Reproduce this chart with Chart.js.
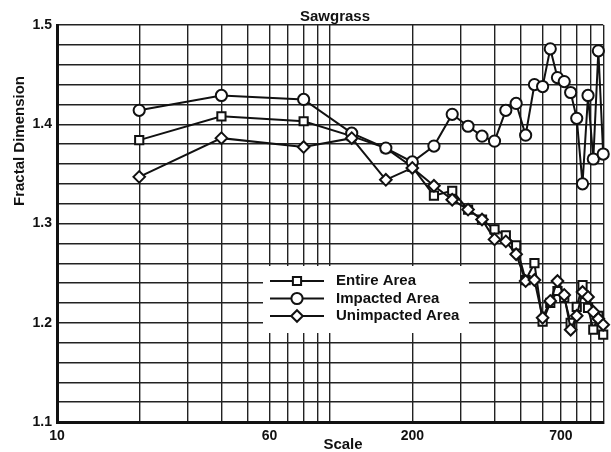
<!DOCTYPE html>
<html>
<head>
<meta charset="utf-8">
<script src="https://cdn.jsdelivr.net/npm/chart.js@4.4.1/dist/chart.umd.min.js"></script>
<style>
  html, body { margin: 0; padding: 0; background: #fff; }
</style>
</head>
<body>
<canvas id="chart" width="611" height="452"></canvas>
<script>
// values
const scales = [20, 40, 80, 120, 160, 200, 240, 280, 320, 360, 400, 440, 480, 520, 560, 600, 640, 680, 720, 760, 800, 840, 880, 920, 960, 1000];
const entireArea = [1.384, 1.408, 1.403, 1.388, 1.376, 1.357, 1.328, 1.333, 1.314, 1.304, 1.294, 1.288, 1.278, 1.243, 1.260, 1.201, 1.220, 1.232, 1.225, 1.200, 1.216, 1.238, 1.215, 1.193, 1.207, 1.188];
const impactedArea = [1.414, 1.429, 1.425, 1.391, 1.376, 1.362, 1.378, 1.410, 1.398, 1.388, 1.383, 1.414, 1.421, 1.389, 1.440, 1.438, 1.476, 1.447, 1.443, 1.432, 1.406, 1.340, 1.429, 1.365, 1.474, 1.370];
const unimpactedArea = [1.347, 1.386, 1.377, 1.386, 1.344, 1.356, 1.338, 1.324, 1.314, 1.304, 1.284, 1.282, 1.269, 1.242, 1.243, 1.205, 1.222, 1.242, 1.228, 1.193, 1.207, 1.231, 1.226, 1.211, 1.204, 1.198];

const xGridValues = [10, 20, 30, 40, 50, 60, 70, 80, 90, 100, 200, 300, 400, 500, 600, 700, 800, 900, 1000];
const xTickLabels = [10, 60, 200, 700];
const yTickLabels = [1.1, 1.2, 1.3, 1.4, 1.5];

const FONT = "'Liberation Sans', Arial, Helvetica, sans-serif";
const INK = "#111";

function series(values) {
  return scales.map((x, i) => ({ x: x, y: values[i] }));
}

function lineDataset(label, values, style, radius) {
  return {
    label: label,
    data: series(values),
    borderColor: INK,
    borderWidth: 2,
    pointStyle: style,
    pointRadius: radius,
    pointBorderWidth: 2,
    pointBackgroundColor: "#fff",
    pointBorderColor: INK,
    tension: 0,
    fill: false,
    clip: false
  };
}

// chart.js paints index 0 last, so diamonds go first (on top), squares last (underneath)
const datasets = [
  lineDataset("Unimpacted Area", unimpactedArea, "rectRot", 5.8),
  lineDataset("Impacted Area", impactedArea, "circle", 5.6),
  lineDataset("Entire Area", entireArea, "rect", 5.8)
];
const legendOrder = [2, 1, 0];

// titles + the legend box sitting in the plot
const textPlugin = {
  id: "textPlugin",
  afterDatasetsDraw(chart) {
    const ctx = chart.ctx;
    ctx.save();

    // legend
    ctx.fillStyle = "#fff";
    ctx.fillRect(263, 266, 206, 67);
    legendOrder.forEach((di, i) => {
      const ds = chart.data.datasets[di];
      const y = 281 + i * 17.5;
      ctx.strokeStyle = INK;
      ctx.lineWidth = 2;
      ctx.beginPath();
      ctx.moveTo(270, y);
      ctx.lineTo(324, y);
      ctx.stroke();
      ctx.fillStyle = "#fff";
      Chart.helpers.drawPoint(ctx, {
        pointStyle: ds.pointStyle,
        radius: ds.pointRadius,
        rotation: 0,
        borderWidth: ds.pointBorderWidth
      }, 297, y);
      ctx.fillStyle = INK;
      ctx.font = "bold 15px " + FONT;
      ctx.textAlign = "left";
      ctx.textBaseline = "middle";
      ctx.fillText(ds.label, 336, y);
    });

    // chart title
    ctx.fillStyle = INK;
    ctx.font = "bold 15px " + FONT;
    ctx.textAlign = "center";
    ctx.textBaseline = "alphabetic";
    ctx.fillText("Sawgrass", 335, 21);

    // x axis title
    ctx.fillText("Scale", 343, 449);

    // y axis title
    ctx.translate(20, 141);
    ctx.rotate(-Math.PI / 2);
    ctx.textBaseline = "middle";
    ctx.fillText("Fractal Dimension", 0, 0);
    ctx.restore();
  }
};

new Chart(document.getElementById("chart").getContext("2d"), {
  type: "line",
  data: { datasets: datasets },
  options: {
    responsive: false,
    animation: false,
    events: [],
    layout: { padding: { top: 25, right: 6, left: 0, bottom: 0 } },
    plugins: {
      legend: { display: false },
      title: { display: false },
      tooltip: { enabled: false }
    },
    scales: {
      x: {
        type: "logarithmic",
        min: 10,
        max: 1000,
        afterBuildTicks(scale) {
          scale.ticks = xGridValues.map(v => ({ value: v }));
        },
        afterFit(scale) { scale.height = 30; },
        ticks: {
          autoSkip: false,
          maxRotation: 0,
          padding: 6,
          color: INK,
          font: { family: FONT, size: 14, weight: "bold" },
          callback(value) {
            return xTickLabels.includes(value) ? String(value) : "";
          }
        },
        grid: { color: "#222", lineWidth: 1.4, drawTicks: false },
        border: { display: true, color: INK, width: 3 }
      },
      y: {
        type: "linear",
        min: 1.1,
        max: 1.5,
        afterFit(scale) { scale.width = 57; },
        ticks: {
          stepSize: 0.02,
          autoSkip: false,
          padding: 5,
          color: INK,
          font: { family: FONT, size: 14, weight: "bold" },
          callback(value) {
            const hit = yTickLabels.find(t => Math.abs(t - value) < 1e-6);
            return hit !== undefined ? hit.toFixed(1) : "";
          }
        },
        grid: { color: "#222", lineWidth: 1.4, drawTicks: false },
        border: { display: true, color: INK, width: 3 }
      }
    }
  },
  plugins: [textPlugin]
});
</script>
</body>
</html>
